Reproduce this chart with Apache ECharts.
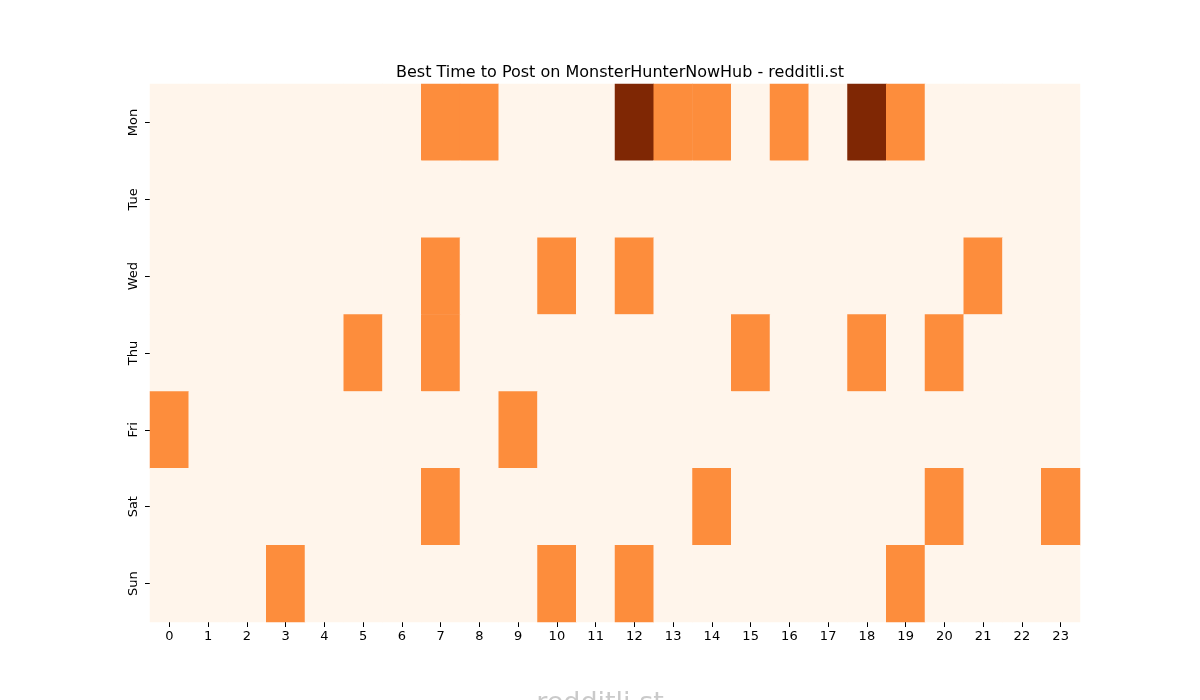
<!DOCTYPE html>
<html><head><meta charset="utf-8">
<script src="https://cdn.jsdelivr.net/npm/echarts@6/dist/echarts.min.js"></script>
<style>html,body{margin:0;padding:0;background:#fff}#c{width:1200px;height:700px}</style>
</head><body><div id="c"></div>
<script>
const hours = Array.from({length:24},(_,i)=>String(i));
const days = ["Mon","Tue","Wed","Thu","Fri","Sat","Sun"];
const mon = [0,0,0,0,0,0,0,1,1,0,0,0,2,1,1,0,1,0,2,1,0,0,0,0];
const tue = [0,0,0,0,0,0,0,0,0,0,0,0,0,0,0,0,0,0,0,0,0,0,0,0];
const wed = [0,0,0,0,0,0,0,1,0,0,1,0,1,0,0,0,0,0,0,0,0,1,0,0];
const thu = [0,0,0,0,0,1,0,1,0,0,0,0,0,0,0,1,0,0,1,0,1,0,0,0];
const fri = [1,0,0,0,0,0,0,0,0,1,0,0,0,0,0,0,0,0,0,0,0,0,0,0];
const sat = [0,0,0,0,0,0,0,1,0,0,0,0,0,0,1,0,0,0,0,0,1,0,0,1];
const sun = [0,0,0,1,0,0,0,0,0,0,1,0,1,0,0,0,0,0,0,1,0,0,0,0];
const rows = [mon,tue,wed,thu,fri,sat,sun];
const data = [];
rows.forEach((r,d)=>r.forEach((v,h)=>data.push([h,d,v])));
const chart = echarts.init(document.getElementById('c'));
const ax = {color:'#000',fontSize:13,fontFamily:'DejaVu Sans'};
chart.setOption({
  animation:false,
  title:{text:'Best Time to Post on MonsterHunterNowHub - redditli.st',left:615,top:60,textAlign:'center',
    textStyle:{fontSize:16,fontWeight:'normal',color:'#000',fontFamily:'DejaVu Sans'}},
  grid:{left:150,right:120,top:84,bottom:78},
  xAxis:{type:'category',data:hours,axisLine:{show:false},axisTick:{show:true,alignWithLabel:true,length:5,lineStyle:{color:'#000'}},
    axisLabel:Object.assign({margin:8},ax),splitLine:{show:false}},
  yAxis:{type:'category',data:days,inverse:true,axisLine:{show:false},axisTick:{show:true,alignWithLabel:true,length:5,lineStyle:{color:'#000'}},
    axisLabel:Object.assign({rotate:90,margin:10},ax),splitLine:{show:false}},
  visualMap:{show:false,min:0,max:2,dimension:2,inRange:{color:['#fff5eb','#fd8d3c','#7f2704']}},
  series:[{type:'heatmap',data:data,itemStyle:{borderWidth:0}}],
  graphic:[{type:'text',left:'center',x:615,y:352,style:{text:'redditli.st',x:615,y:352,textAlign:'center',textVerticalAlign:'middle',
    fontSize:27,fill:'rgba(150,150,150,0.5)',fontFamily:'DejaVu Sans'},z:100}]
});
</script></body></html>
